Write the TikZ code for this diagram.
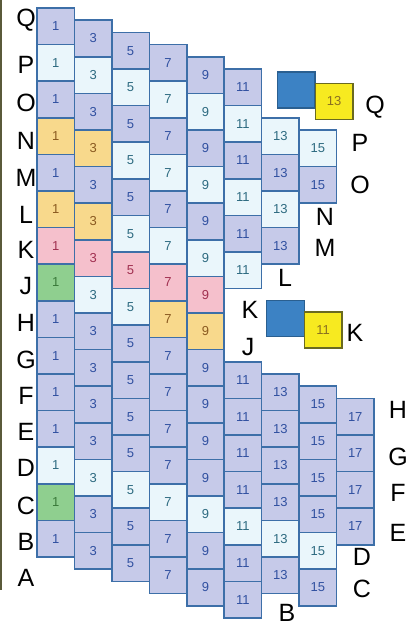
\documentclass[tikz,border=0pt]{standalone}
\usepackage{fontspec}
\setmainfont{Liberation Sans}
\definecolor{lavfill}{HTML}{C6CAE9}
\definecolor{litfill}{HTML}{EAF6FB}
\definecolor{yelfill}{HTML}{F8D98C}
\definecolor{pnkfill}{HTML}{F5C0CC}
\definecolor{grnfill}{HTML}{8FCF8F}
\definecolor{cellborder}{HTML}{3D6FA8}
\definecolor{lavtext}{HTML}{3050A0}
\definecolor{littext}{HTML}{2D6A80}
\definecolor{yeltext}{HTML}{8A5A20}
\definecolor{pnktext}{HTML}{A03050}
\definecolor{grntext}{HTML}{3A7A3A}
\definecolor{bluesq}{HTML}{3C82C4}
\definecolor{bluesqborder}{HTML}{2A5F90}
\definecolor{yelsq}{HTML}{F7EA20}
\definecolor{yelsqborder}{HTML}{6A6A20}
\definecolor{yelsqtext}{HTML}{8A7020}
\definecolor{edgeline}{HTML}{5A5A3A}
\begin{document}
\begin{tikzpicture}[x=0.5pt,y=-0.5pt,
  cellbase/.style={draw=cellborder, line width=0.8pt, rectangle, inner sep=0pt, outer sep=0pt,
    minimum width=18.72pt, minimum height=18.3pt, anchor=north west,
    font=\fontsize{6.5}{7}\selectfont},
  cellV/.style={cellbase, fill=lavfill, text=lavtext},
  cellL/.style={cellbase, fill=litfill, text=littext},
  cellY/.style={cellbase, fill=yelfill, text=yeltext},
  cellP/.style={cellbase, fill=pnkfill, text=pnktext},
  cellG/.style={cellbase, fill=grnfill, text=grntext},
  rowlabel/.style={font=\fontsize{12.5}{14}\selectfont, text=black, inner sep=0pt},
  bluebox/.style={draw=bluesqborder, fill=bluesq, line width=0.7pt, minimum width=18.8pt, minimum height=18pt, inner sep=0pt},
  yellowbox/.style={draw=yelsqborder, fill=yelsq, line width=0.7pt, minimum width=18.8pt, minimum height=18pt, inner sep=0pt,
    text=yelsqtext, font=\fontsize{6.5}{7}\selectfont}
]
\useasboundingbox (0,0) rectangle (417,626);
\draw[edgeline, line width=0.8pt] (1,0) -- (1,590);
% cells
\foreach \col/\num/\codes in {
  0/1/{V,L,V,Y,V,Y,P,G,V,V,V,V,L,G,V},
  1/3/{V,L,V,Y,V,Y,P,L,V,V,V,V,L,V,V},
  2/5/{V,L,V,L,V,L,P,L,V,V,V,V,L,V,V},
  3/7/{V,L,V,L,V,L,P,Y,V,V,V,V,L,V,V},
  4/9/{V,L,V,L,V,L,P,Y,V,V,V,V,L,V,V},
  5/11/{V,L,V,L,V,L,N,N,V,V,V,V,L,V,V},
  6/13/{N,L,V,L,V,N,N,N,V,V,V,V,L,V,N},
  7/15/{N,L,V,N,N,N,N,N,V,V,V,V,L,V,N},
  8/17/{N,N,N,N,N,N,N,N,V,V,V,V,N,N,N}} {
  \foreach \code [count=\k from 0] in \codes {
    \if\code N\else
      \node[cell\code] (c\num r\k) at ({37+\col*37.44}, {8+\col*12.2+\k*36.6}) {\num};
    \fi
  }
}
% left row letters
\foreach \lab/\yy in {Q/20, P/65, O/103, N/141, M/178, L/215, K/250, J/286, H/323, G/360, F/396, E/432, D/468, C/506, B/542, A/578} {
  \node[rowlabel] (left\lab) at (26,\yy) {\lab};
}
% right letters
\node[rowlabel] (rQ) at (375,107) {Q};
\node[rowlabel] (rP) at (360,143) {P};
\node[rowlabel] (rO) at (360,185) {O};
\node[rowlabel] (rN) at (325,217) {N};
\node[rowlabel] (rM) at (325,248) {M};
\node[rowlabel] (rL) at (285,278) {L};
\node[rowlabel] (rK) at (250,310) {K};
\node[rowlabel] (rJ) at (248,347) {J};
\node[rowlabel] (rK2) at (355,333) {K};
\node[rowlabel] (rH) at (398,410) {H};
\node[rowlabel] (rG) at (398,457) {G};
\node[rowlabel] (rF) at (398,493) {F};
\node[rowlabel] (rE) at (398,533) {E};
\node[rowlabel] (rD) at (362,557) {D};
\node[rowlabel] (rC) at (362,589) {C};
\node[rowlabel] (rB) at (287,613) {B};
% legend squares
\node[bluebox] (blueA) at (296,90) {};
\node[yellowbox] (yellowA) at (334,101.5) {13};
\node[bluebox] (blueB) at (285.5,318.5) {};
\node[yellowbox] (yellowB) at (323,330) {11};
\end{tikzpicture}
\end{document}
